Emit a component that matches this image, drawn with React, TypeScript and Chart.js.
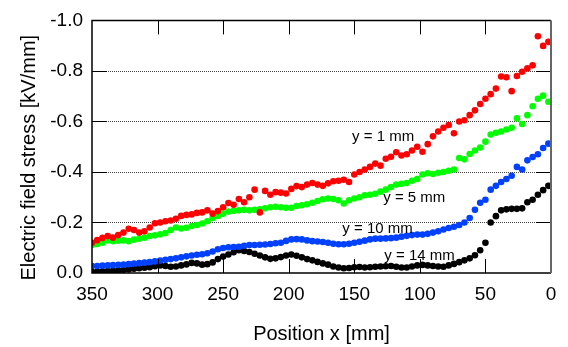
import React, { useEffect, useRef } from "react";
import { Chart, registerables } from "chart.js";

Chart.register(...registerables);

// Position along x [mm]
const positions = [
  350, 346, 342, 338, 334, 330, 326, 322, 318, 314,
  310, 306, 302, 298, 294, 290, 286, 282, 278, 274,
  270, 266, 262, 258, 254, 250, 246, 242, 238, 234,
  230, 226, 222, 218, 214, 210, 206, 202, 198, 194,
  190, 186, 182, 178, 174, 170, 166, 162, 158, 154,
  150, 146, 142, 138, 134, 130, 126, 122, 118, 114,
  110, 106, 102, 98, 94, 90, 86, 82, 78, 74,
  70, 66, 62, 58, 54, 50, 46, 42, 38, 34,
  30, 26, 22, 18, 14, 10, 6, 2,
];

// Electric field stress [kV/mm]
const stressY1 = [
  -0.12, -0.13, -0.139, -0.146, -0.14, -0.15, -0.16, -0.175, -0.17, -0.16,
  -0.165, -0.18, -0.197, -0.2, -0.205, -0.208, -0.215, -0.226, -0.23, -0.232,
  -0.238, -0.24, -0.248, -0.235, -0.245, -0.26, -0.277, -0.27, -0.293, -0.28,
  -0.3, -0.33, -0.24, -0.325, -0.31, -0.32, -0.318, -0.315, -0.333, -0.344,
  -0.34, -0.35, -0.356, -0.35, -0.345, -0.355, -0.363, -0.365, -0.369, -0.36,
  -0.39, -0.4, -0.41, -0.42, -0.433, -0.425, -0.452, -0.46, -0.478, -0.465,
  -0.47, -0.485, -0.5, -0.48, -0.51, -0.541, -0.56, -0.575, -0.586, -0.553,
  -0.6, -0.605, -0.625, -0.644, -0.669, -0.69, -0.708, -0.73, -0.778, -0.775,
  -0.72, -0.78, -0.797, -0.81, -0.822, -0.937, -0.899, -0.915,
];

const stressY5 = [
  -0.111, -0.115, -0.12, -0.129, -0.126, -0.128, -0.129, -0.126, -0.132, -0.136,
  -0.14, -0.146, -0.149, -0.153, -0.158, -0.17, -0.18, -0.176, -0.179, -0.186,
  -0.19, -0.196, -0.205, -0.218, -0.226, -0.235, -0.243, -0.246, -0.248, -0.25,
  -0.248, -0.25, -0.252, -0.256, -0.26, -0.262, -0.26, -0.258, -0.258, -0.265,
  -0.268, -0.272, -0.278, -0.285, -0.292, -0.295, -0.293, -0.288, -0.275, -0.288,
  -0.295, -0.3, -0.308, -0.31, -0.314, -0.322, -0.33, -0.34, -0.35, -0.353,
  -0.356, -0.365, -0.372, -0.39, -0.395, -0.392, -0.397, -0.4, -0.405, -0.41,
  -0.455, -0.45, -0.471, -0.485, -0.497, -0.52, -0.548, -0.555, -0.56, -0.568,
  -0.575, -0.612, -0.59, -0.625, -0.66, -0.69, -0.702, -0.678,
];

const stressY10 = [
  -0.028, -0.028, -0.029, -0.03, -0.031, -0.032, -0.033, -0.035, -0.037, -0.039,
  -0.041, -0.043, -0.046, -0.049, -0.052, -0.055, -0.058, -0.062, -0.066, -0.069,
  -0.072, -0.074, -0.078, -0.085, -0.094, -0.099, -0.102, -0.103, -0.104, -0.108,
  -0.111, -0.111, -0.112, -0.113, -0.115, -0.118, -0.12, -0.127, -0.133, -0.134,
  -0.133, -0.129, -0.126, -0.125, -0.123, -0.12, -0.116, -0.114, -0.114, -0.116,
  -0.12, -0.124, -0.128, -0.133, -0.136, -0.136, -0.137, -0.138, -0.14, -0.144,
  -0.147, -0.15, -0.152, -0.152, -0.155, -0.16, -0.165, -0.172, -0.178, -0.183,
  -0.19, -0.2, -0.218, -0.25, -0.278, -0.29, -0.33, -0.345, -0.36, -0.372,
  -0.385, -0.42, -0.41, -0.446, -0.459, -0.47, -0.495, -0.512,
];

const stressY14 = [
  -0.005, -0.006, -0.007, -0.008, -0.009, -0.01, -0.012, -0.014, -0.017, -0.019,
  -0.021, -0.023, -0.027, -0.03, -0.028, -0.025, -0.026, -0.03, -0.034, -0.04,
  -0.038, -0.033, -0.035, -0.042, -0.055, -0.065, -0.073, -0.082, -0.09, -0.087,
  -0.083, -0.076, -0.069, -0.062, -0.056, -0.058, -0.063, -0.069, -0.073, -0.068,
  -0.062, -0.055, -0.05, -0.044, -0.038, -0.033, -0.026, -0.022, -0.019, -0.02,
  -0.023, -0.024, -0.022, -0.023, -0.025, -0.026, -0.027, -0.028, -0.025, -0.022,
  -0.022, -0.026, -0.03, -0.032, -0.03, -0.028, -0.026, -0.025, -0.03, -0.036,
  -0.043, -0.05, -0.058, -0.07, -0.09, -0.12, -0.2, -0.225, -0.248, -0.252,
  -0.254, -0.254, -0.256, -0.28, -0.29, -0.31, -0.328, -0.345,
];

const seriesNames = ["y = 1 mm", "y = 5 mm", "y = 10 mm", "y = 14 mm"];
const seriesColors = ["#ff0000", "#00ff00", "#0040ff", "#000000"];
const seriesValues = [stressY1, stressY5, stressY10, stressY14];

// Curve label anchors (data coordinates: left edge / baseline)
const labelX = [151.7, 127.9, 159.1, 127.1];
const labelY = [-0.521, -0.28, -0.158, -0.05];

const xTickValues = [300, 250, 200, 150, 100, 50];
const yGridValues = [-0.2, -0.4, -0.6, -0.8];

const xTitle = "Position x [mm]";
const yTitle = "Electric field stress [kV/mm]";

const FONT = '"Liberation Sans", Arial, Helvetica, sans-serif';

const decorPlugin = {
  id: "decor",
  beforeDatasetsDraw(chart: any) {
    const { ctx, chartArea: a, scales } = chart;
    const ys = scales.y;
    ctx.save();
    ctx.strokeStyle = "#444";
    ctx.lineWidth = 1;
    ctx.setLineDash([1, 1]);
    for (const v of yGridValues) {
      const py = Math.round(ys.getPixelForValue(v)) + 0.5;
      ctx.beginPath();
      ctx.moveTo(a.left, py);
      ctx.lineTo(a.right, py);
      ctx.stroke();
    }
    ctx.restore();
  },
  afterDatasetsDraw(chart: any) {
    const { ctx, chartArea: a, scales } = chart;
    const xs = scales.x;
    const ys = scales.y;
    ctx.save();
    ctx.setLineDash([]);
    ctx.strokeStyle = "#000";
    ctx.lineWidth = 1;
    // inward ticks
    for (const v of xTickValues) {
      const px = Math.round(xs.getPixelForValue(v)) + 0.5;
      ctx.beginPath();
      ctx.moveTo(px, a.bottom);
      ctx.lineTo(px, a.bottom - 14);
      ctx.moveTo(px, a.top);
      ctx.lineTo(px, a.top + 14);
      ctx.stroke();
    }
    for (const v of yGridValues) {
      const py = Math.round(ys.getPixelForValue(v)) + 0.5;
      ctx.beginPath();
      ctx.moveTo(a.left, py);
      ctx.lineTo(a.left + 15, py);
      ctx.moveTo(a.right, py);
      ctx.lineTo(a.right - 15, py);
      ctx.stroke();
    }
    // frame
    ctx.lineWidth = 1.5;
    ctx.strokeStyle = "#000";
    ctx.beginPath();
    ctx.moveTo(a.right, a.top);
    ctx.lineTo(a.left, a.top);
    ctx.lineTo(a.left, a.bottom);
    ctx.lineTo(a.right, a.bottom);
    ctx.stroke();
    ctx.strokeStyle = "#666";
    ctx.lineWidth = 2;
    ctx.beginPath();
    ctx.moveTo(a.right, a.top);
    ctx.lineTo(a.right, a.bottom);
    ctx.stroke();

    // curve labels
    ctx.fillStyle = "#000";
    ctx.font = `15px ${FONT}`;
    ctx.textAlign = "left";
    ctx.textBaseline = "alphabetic";
    seriesNames.forEach((name, i) => {
      ctx.fillText(name, xs.getPixelForValue(labelX[i]), ys.getPixelForValue(labelY[i]));
    });

    // axis titles
    ctx.font = `20px ${FONT}`;
    ctx.textAlign = "center";
    ctx.fillText(xTitle, (a.left + a.right) / 2, a.bottom + 67);
    ctx.save();
    ctx.translate(35, (a.top + a.bottom) / 2 + 11);
    ctx.rotate(-Math.PI / 2);
    ctx.fillText(yTitle, 0, 0);
    ctx.restore();
    ctx.restore();
  },
};

export default function App() {
  const canvasRef = useRef<HTMLCanvasElement | null>(null);

  useEffect(() => {
    if (!canvasRef.current) return;
    const datasets = seriesNames.map((name, i) => ({
      label: name,
      data: positions.map((x, j) => ({ x, y: seriesValues[i][j] })),
      backgroundColor: seriesColors[i],
      borderColor: seriesColors[i],
      pointRadius: 3.3,
      pointHoverRadius: 3.3,
      pointBorderWidth: 0,
      showLine: false,
    }));
    const chart = new Chart(canvasRef.current, {
      type: "scatter",
      data: { datasets },
      options: {
        animation: false,
        responsive: false,
        devicePixelRatio: 1,
        events: [],
        layout: { padding: { left: 0, right: 17, top: 12, bottom: 0 } },
        plugins: { legend: { display: false }, tooltip: { enabled: false } },
        scales: {
          x: {
            type: "linear",
            reverse: true,
            min: 0,
            max: 350,
            afterFit: (s: any) => {
              s.height = 74;
            },
            grid: { display: false, drawTicks: false },
            border: { display: false },
            ticks: {
              stepSize: 50,
              color: "#000",
              font: { family: FONT, size: 19 },
              padding: 10,
              maxRotation: 0,
              autoSkip: false,
            },
          },
          y: {
            type: "linear",
            reverse: true,
            min: -1,
            max: 0,
            afterFit: (s: any) => {
              s.width = 92;
            },
            grid: { display: false, drawTicks: false },
            border: { display: false },
            ticks: {
              stepSize: 0.2,
              color: "#000",
              font: { family: FONT, size: 19 },
              padding: 9,
              callback: (v: any) => Number(v).toFixed(1),
            },
          },
        },
      },
      plugins: [decorPlugin],
    });
    return () => chart.destroy();
  }, []);

  return (
    <div style={{ position: "absolute", left: 0, top: 0, width: 568, height: 347, background: "#fff" }}>
      <canvas ref={canvasRef} width={568} height={347} />
    </div>
  );
}
